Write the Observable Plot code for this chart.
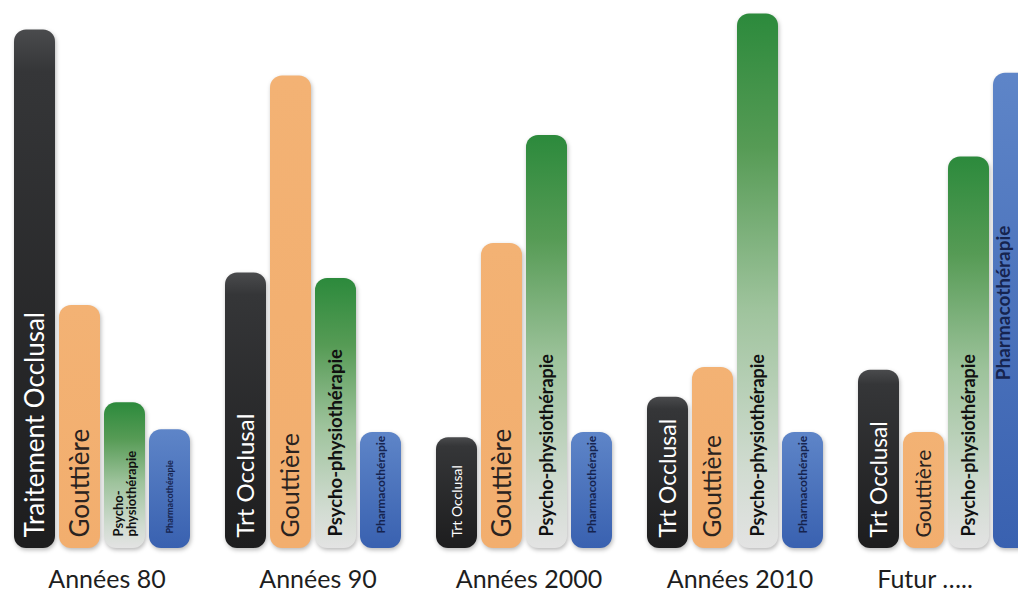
<!DOCTYPE html>
<html>
<head>
<meta charset="utf-8">
<script src="https://cdn.jsdelivr.net/npm/d3@7"></script>
<script src="https://cdn.jsdelivr.net/npm/@observablehq/plot@0.6"></script>
<style>
  html, body { margin: 0; padding: 0; background: #fff; }
  #wrap { width: 1018px; height: 593px; overflow: hidden; }
  #wrap svg { max-width: none !important; }
  g[aria-label="bar"] rect { filter: drop-shadow(1px 2px 2px rgba(0,0,0,0.28)); }
</style>
</head>
<body>
<div id="wrap"></div>
<script>
// ---- data ----
const periods = ["Années 80", "Années 90", "Années 2000", "Années 2010", "Futur ….."];
const treatments = ["Traitement Occlusal", "Gouttière", "Psycho-physiothérapie", "Pharmacothérapie"];

// relative importance (0–100) per period
const occlusal = [96, 51, 20.5, 28, 33];
const gouttiere = [45, 87.5, 56.5, 33.5, 21.5];
const psycho = [27, 50, 76.5, 99, 72.5];
const pharmaco = [22, 21.5, 21.5, 21.5, 88];

// text written inside each bar
const occlusalLabels = ["Traitement Occlusal", "Trt Occlusal", "Trt Occlusal", "Trt Occlusal", "Trt Occlusal"];
const gouttiereLabels = ["Gouttière", "Gouttière", "Gouttière", "Gouttière", "Gouttière"];
const psychoLabels = ["Psycho-\nphysiothérapie", "Psycho-physiothérapie", "Psycho-physiothérapie", "Psycho-physiothérapie", "Psycho-physiothérapie"];
const pharmacoLabels = ["Pharmacothérapie", "Pharmacothérapie", "Pharmacothérapie", "Pharmacothérapie", "Pharmacothérapie"];

// ---- styles (kept apart from data) ----
const labelSizes = {
  "Traitement Occlusal": [26, 24, 14, 23, 22.5],
  "Gouttière": [26, 25, 26, 24.5, 21],
  "Psycho-physiothérapie": [13, 18.5, 18, 18, 18],
  "Pharmacothérapie": [9, 12, 12, 12, 19]
};
const pharmacoAnchor = ["bottom", "bottom", "bottom", "bottom", "middle"];
const fills = {
  "Traitement Occlusal": "url(#gBlack)",
  "Gouttière": "url(#gOrange)",
  "Psycho-physiothérapie": "url(#gGreen)",
  "Pharmacothérapie": "url(#gBlue)"
};
const textColors = {
  "Traitement Occlusal": "#ffffff",
  "Gouttière": "#2a2320",
  "Psycho-physiothérapie": "#111111",
  "Pharmacothérapie": "#16244f"
};

const series = [occlusal, gouttiere, psycho, pharmaco];
const labels = [occlusalLabels, gouttiereLabels, psychoLabels, pharmacoLabels];
const data = periods.flatMap((p, i) => treatments.map((t, j) => ({
  period: p, treatment: t, value: series[j][i], label: labels[j][i],
  size: labelSizes[t][i], anchor: j === 3 ? pharmacoAnchor[i] : "bottom"
})));

const textMark = (t, weight, dy, extra = {}) => Plot.text(
  data.filter(d => d.treatment === t && d.anchor === "bottom"),
  {fx: "period", x: "treatment", y: 0, text: "label", rotate: -90, textAnchor: "start",
   lineAnchor: "middle", fontSize: "size", fontWeight: weight, fill: textColors[t], dy: -dy, lineHeight: 1.05, ...extra}
);

const periodLabel = (subset, dx) => Plot.text(subset,
  {fx: d => d, text: d => d, frameAnchor: "bottom", dy: 39, dx, fontSize: 25, fill: "#1e1e1e"});

const chart = Plot.plot({
  width: 1042,
  height: 593,
  marginLeft: 11,
  marginRight: 3,
  marginTop: 8,
  marginBottom: 45,
  style: {fontFamily: "Lato, sans-serif", color: "#1e1e1e", background: "#fff"},
  fx: {domain: periods, paddingInner: 0.15, paddingOuter: 0, label: null, axis: null},
  x: {domain: treatments, paddingInner: 0.087, paddingOuter: 0, axis: null},
  y: {domain: [0, 100], axis: null},
  color: {type: "identity"},
  marks: [
    Plot.barY(data, {fx: "period", x: "treatment", y: "value", fill: d => fills[d.treatment], rx: 12}),
    textMark("Traitement Occlusal", "normal", 11),
    textMark("Gouttière", "normal", 11),
    textMark("Psycho-physiothérapie", "bold", 12),
    textMark("Pharmacothérapie", "bold", 15),
    Plot.text(data.filter(d => d.anchor === "middle"),
      {fx: "period", x: "treatment", y: d => d.value / 2, text: "label", rotate: -90, textAnchor: "middle",
       lineAnchor: "middle", fontSize: "size", fontWeight: "bold", fill: textColors["Pharmacothérapie"], dy: -8, dx: -10}),
    periodLabel(periods.slice(0, 4), 4),
    periodLabel(periods.slice(4), -22)
  ]
});

document.getElementById("wrap").appendChild(chart);
const svg = chart.tagName.toLowerCase() === "svg" ? chart : chart.querySelector("svg");
const defs = d3.select(svg).insert("defs", ":first-child");
function grad(id, stops) {
  const g = defs.append("linearGradient").attr("id", id).attr("x1", 0).attr("y1", 0).attr("x2", 0).attr("y2", 1);
  stops.forEach(([o, c]) => g.append("stop").attr("offset", o).attr("stop-color", c));
}
grad("gBlack", [[0, "#4a4b4d"], [0.08, "#353638"], [1, "#1d1d1e"]]);
grad("gOrange", [[0, "#f3b274"], [1, "#f2ae6e"]]);
grad("gGreen", [[0, "#2c8a3c"], [0.25, "#569b55"], [0.55, "#9ec39c"], [0.85, "#d0dbd0"], [1, "#e3e3e3"]]);
grad("gBlue", [[0, "#5e85c8"], [1, "#3961b0"]]);
</script>
</body>
</html>
